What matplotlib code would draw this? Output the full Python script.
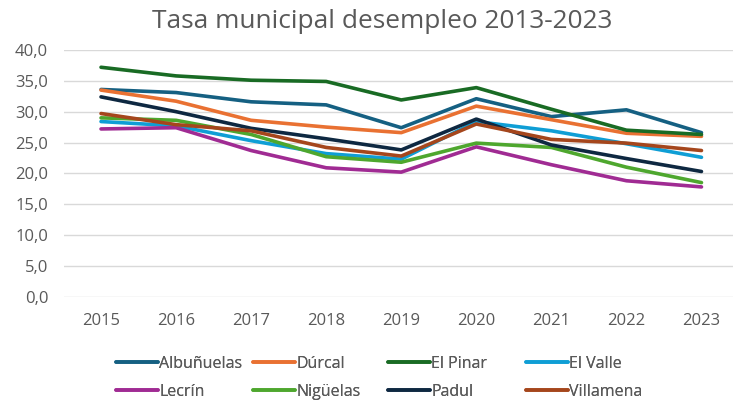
import matplotlib.pyplot as plt
from matplotlib.ticker import FuncFormatter

# Datos
years = ["2015", "2016", "2017", "2018", "2019", "2020", "2021", "2022", "2023"]
albunuelas = [33.6, 33.1, 31.6, 31.1, 27.4, 32.1, 29.2, 30.3, 26.6]
durcal = [33.5, 31.7, 28.6, 27.5, 26.6, 30.9, 28.7, 26.5, 26.0]
el_pinar = [37.2, 35.8, 35.1, 34.9, 31.9, 33.9, 30.4, 27.0, 26.3]
el_valle = [28.4, 27.7, 25.3, 23.2, 22.3, 28.4, 26.9, 24.8, 22.6]
lecrin = [27.2, 27.4, 23.7, 20.9, 20.2, 24.3, 21.4, 18.8, 17.8]
niguelas = [29.0, 28.6, 26.3, 22.7, 21.8, 24.9, 24.2, 21.0, 18.5]
padul = [32.4, 30.0, 27.3, 25.6, 23.8, 28.8, 24.6, 22.4, 20.3]
villamena = [29.7, 27.9, 26.9, 24.2, 22.8, 28.0, 25.5, 24.9, 23.7]

names = ["Albuñuelas", "Dúrcal", "El Pinar", "El Valle",
         "Lecrín", "Nigüelas", "Padul", "Villamena"]
series = [albunuelas, durcal, el_pinar, el_valle, lecrin, niguelas, padul, villamena]
colors = ["#156082", "#E97132", "#196B24", "#0F9ED5",
          "#A02B93", "#4EA72E", "#0E2841", "#A5461C"]

plt.rcParams["font.family"] = ["Open Sans", "DejaVu Sans"]
gray = "#595959"

fig = plt.figure(figsize=(7.33, 4.05), dpi=100)
ax = fig.add_axes([63.5 / 733, 1 - 296.7 / 405, 1 - 63.5 / 733, (296.7 - 50) / 405])

x = list(range(len(years)))
handles = []
for name, vals, c in zip(names, series, colors):
    h, = ax.plot(x, vals, color=c, lw=2.6, label=name, solid_capstyle="round")
    handles.append(h)

ax.set_ylim(0, 40)
ax.set_xlim(-0.5, 8.42)
ax.set_yticks(range(0, 41, 5))
ax.yaxis.set_major_formatter(FuncFormatter(lambda v, p: f"{v:.1f}".replace(".", ",")))
ax.set_xticks(x)
ax.set_xticklabels(years)
ax.grid(axis="y", color="#D9D9D9", lw=1)
ax.set_axisbelow(True)
for s in ax.spines.values():
    s.set_visible(False)
ax.tick_params(length=0, colors=gray, labelsize=12)
ax.tick_params(axis="y", pad=11)
ax.tick_params(axis="x", pad=12)

fig.suptitle("Tasa municipal desempleo 2013-2023", x=382 / 733, y=1 - 22 / 405,
             va="center", fontsize=18.9, color=gray)

# Leyenda: una columna por cada posición (como en Excel, columnas iguales)
col_x = [116, 253, 388, 526]
for k, cx in enumerate(col_x):
    idx = [k, k + 4]
    leg = fig.legend([handles[i] for i in idx], [names[i] for i in idx],
                     loc="center left", bbox_to_anchor=(cx / 733, 1 - 378 / 405),
                     frameon=False, fontsize=11.5, handlelength=2.6,
                     handletextpad=0.12, borderpad=0, borderaxespad=0,
                     labelspacing=0.75, labelcolor=gray)
    fig.add_artist(leg)

fig.savefig("out.png", dpi=100, facecolor="white")
